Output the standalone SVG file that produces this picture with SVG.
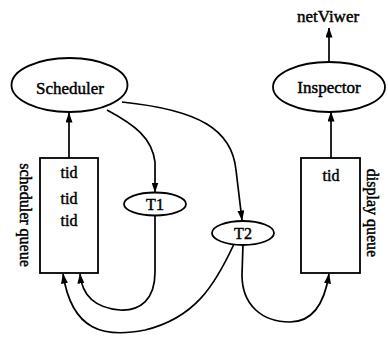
<svg xmlns="http://www.w3.org/2000/svg" width="388" height="339" viewBox="0 0 388 339">
  <style>
    .shape { fill: #fff; stroke: #000; stroke-width: 1.8; }
    .label { font-family: "Liberation Serif", "Times New Roman", serif; font-size: 17px; fill: #000; stroke: #000; stroke-width: 0.45; text-anchor: middle; }
    .small { font-size: 16px; }
    .edge { fill: none; stroke: #000; stroke-width: 1.7; marker-end: url(#arrow); }
  </style>
  <defs>
    <marker id="arrow" markerUnits="userSpaceOnUse" markerWidth="10" markerHeight="7" refX="9.5" refY="3.5" orient="auto">
      <path d="M0,0 L10,3.5 L0,7 Z" fill="#000"/>
    </marker>
  </defs>
  <rect width="388" height="339" fill="#fff"/>

  <g id="connectors">
    <path class="edge" d="M69,158 L69,113"/>
    <path class="edge" d="M331,158 L331,112"/>
    <path class="edge" d="M329,62 L329,28"/>
    <path class="edge" d="M107,110 C135,125 152,138 155,162 L155,192"/>
    <path class="edge" d="M122,102 C200,110 232,130 236,170 L242,220"/>
    <path class="edge" d="M155,215 L155,272 C155,300 140,311 120,310 C95,308 82,295 80,274"/>
    <path class="edge" d="M234,244 C215,285 195,318 145,330 C105,338 72,332 63,274"/>
    <path class="edge" d="M243,244 L242,275 C242,305 262,322 290,322 C315,322 325,300 329,274"/>
  </g>

  <g id="scheduler">
    <ellipse class="shape" cx="69.5" cy="85" rx="58" ry="27"/>
    <text class="label" x="70" y="94">Scheduler</text>
  </g>

  <g id="inspector">
    <ellipse class="shape" cx="329" cy="87" rx="56" ry="25"/>
    <text class="label" x="329" y="93">Inspector</text>
  </g>

  <g id="netviwer">
    <text class="label" x="328" y="22">netViwer</text>
  </g>

  <g id="scheduler-queue">
    <rect class="shape" x="40" y="158" width="58" height="115"/>
    <text class="label small" x="69" y="178">tid</text>
    <text class="label small" x="69" y="204">tid</text>
    <text class="label small" x="69" y="226">tid</text>
    <text class="label small" transform="translate(20,215) rotate(90)">scheduler queue</text>
  </g>

  <g id="display-queue">
    <rect class="shape" x="301" y="158" width="59" height="115"/>
    <text class="label small" x="331" y="181">tid</text>
    <text class="label small" transform="translate(367,213) rotate(90)">display queue</text>
  </g>

  <g id="t1">
    <ellipse class="shape" cx="155" cy="204" rx="31" ry="11.5"/>
    <text class="label small" x="155" y="209.5">T1</text>
  </g>

  <g id="t2">
    <ellipse class="shape" cx="243" cy="233" rx="31" ry="12"/>
    <text class="label small" x="243" y="238.5">T2</text>
  </g>
</svg>
